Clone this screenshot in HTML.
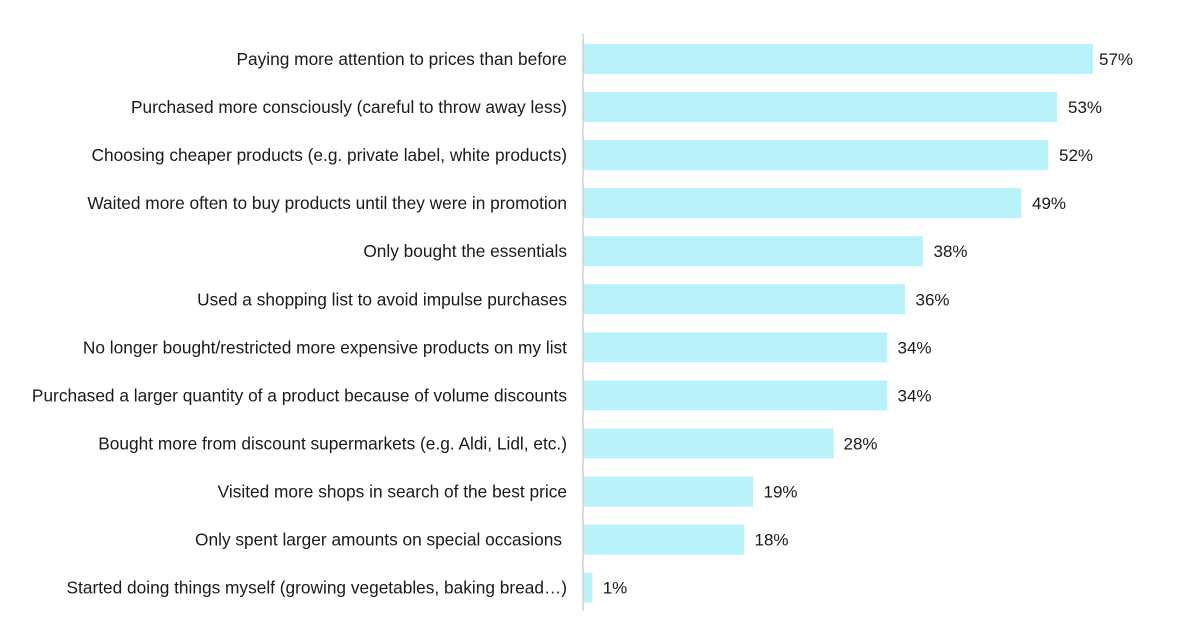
<!DOCTYPE html>
<html>
<head>
<meta charset="utf-8">
<style>
html,body{margin:0;padding:0;background:#fff;}
svg{display:block;}
text{font-family:"Liberation Sans",Arial,sans-serif;fill:#1a1a1a;}
</style>
</head>
<body>
<svg width="1186" height="637" viewBox="0 0 1186 637" xmlns="http://www.w3.org/2000/svg">
<rect width="1186" height="637" fill="#fff"/>
<g fill="#baf2f9">
<rect x="583.5" y="44" width="509.5" height="30"/>
<rect x="583.5" y="92.06" width="473.6" height="30"/>
<rect x="583.5" y="140.12" width="464.6" height="30"/>
<rect x="583.5" y="188.18" width="437.8" height="30"/>
<rect x="583.5" y="236.24" width="339.5" height="30"/>
<rect x="583.5" y="284.3" width="321.7" height="30"/>
<rect x="583.5" y="332.36" width="303.8" height="30"/>
<rect x="583.5" y="380.42" width="303.8" height="30"/>
<rect x="583.5" y="428.48" width="250.2" height="30"/>
<rect x="583.5" y="476.54" width="169.8" height="30"/>
<rect x="583.5" y="524.6" width="160.8" height="30"/>
<rect x="583.5" y="572.66" width="8.9" height="30"/>
</g>
<line x1="583" y1="34" x2="583" y2="611" stroke="#d0d0d0" stroke-width="1.5"/>
<g font-size="17.3" text-anchor="end">
<text x="567" y="65">Paying more attention to prices than before</text>
<text x="567" y="113.1">Purchased more consciously (careful to throw away less)</text>
<text x="567" y="161.1">Choosing cheaper products (e.g. private label, white products)</text>
<text x="567" y="209.2">Waited more often to buy products until they were in promotion</text>
<text x="567" y="257.2">Only bought the essentials</text>
<text x="567" y="305.3">Used a shopping list to avoid impulse purchases</text>
<text x="567" y="353.4">No longer bought/restricted more expensive products on my list</text>
<text x="567" y="401.4">Purchased a larger quantity of a product because of volume discounts</text>
<text x="567" y="449.5">Bought more from discount supermarkets (e.g. Aldi, Lidl, etc.)</text>
<text x="567" y="497.5">Visited more shops in search of the best price</text>
<text x="562" y="545.6">Only spent larger amounts on special occasions</text>
<text x="567" y="593.7">Started doing things myself (growing vegetables, baking bread…)</text>
</g>
<g font-size="17">
<text x="1099" y="65">57%</text>
<text x="1068" y="113.1">53%</text>
<text x="1059" y="161.1">52%</text>
<text x="1032" y="209.2">49%</text>
<text x="933.5" y="257.2">38%</text>
<text x="915.5" y="305.3">36%</text>
<text x="897.5" y="353.4">34%</text>
<text x="897.5" y="401.4">34%</text>
<text x="843.5" y="449.5">28%</text>
<text x="763.5" y="497.5">19%</text>
<text x="754.5" y="545.6">18%</text>
<text x="602.7" y="593.7">1%</text>
</g>
</svg>
</body>
</html>
